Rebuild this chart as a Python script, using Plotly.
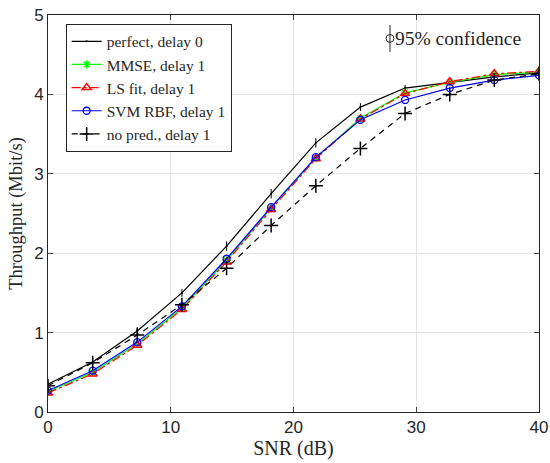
import plotly.graph_objects as go

snr = [0, 3.64, 7.27, 10.91, 14.55, 18.18, 21.82, 25.45, 29.09, 32.73, 36.36, 40]
perfect = [0.35, 0.63, 1.02, 1.50, 2.09, 2.75, 3.39, 3.84, 4.08, 4.15, 4.22, 4.27]
mmse = [0.26, 0.50, 0.86, 1.31, 1.91, 2.57, 3.20, 3.70, 4.02, 4.15, 4.25, 4.28]
lsfit = [0.24, 0.48, 0.84, 1.29, 1.89, 2.55, 3.19, 3.69, 4.01, 4.16, 4.26, 4.29]
svm = [0.27, 0.52, 0.88, 1.33, 1.93, 2.58, 3.21, 3.68, 3.93, 4.08, 4.18, 4.24]
nopred = [0.33, 0.62, 0.97, 1.35, 1.81, 2.35, 2.85, 3.32, 3.76, 4.00, 4.18, 4.26]
ci_perfect = [0.03, 0.04, 0.05, 0.05, 0.06, 0.06, 0.06, 0.05, 0.04, 0.03, 0.03, 0.02]

serif = "Liberation Serif"
sans = "Liberation Sans"
ink = "#262626"

fig = go.Figure()
fig.add_trace(go.Scatter(x=snr, y=perfect, name="perfect, delay 0", mode="lines+markers",
                         line=dict(color="black", width=1.2),
                         marker=dict(symbol="circle", size=2, color="black"),
                         error_y=dict(type="data", array=ci_perfect, color="black", thickness=1, width=0)))
fig.add_trace(go.Scatter(x=snr, y=mmse, name="MMSE, delay 1", mode="lines+markers",
                         line=dict(color="#00ff00", width=1.2),
                         marker=dict(symbol="asterisk-open", size=7, color="#00ff00", line=dict(width=1.2, color="#00ff00"))))
fig.add_trace(go.Scatter(x=snr, y=lsfit, name="LS fit, delay 1", mode="lines+markers",
                         line=dict(color="red", width=1.2, dash="dashdot"),
                         marker=dict(symbol="triangle-up-open", size=8, color="red", line=dict(width=1.5, color="red"))))
fig.add_trace(go.Scatter(x=snr, y=svm, name="SVM RBF, delay 1", mode="lines+markers",
                         line=dict(color="blue", width=1.2),
                         marker=dict(symbol="circle-open", size=7, color="blue", line=dict(width=1.3, color="blue"))))
fig.add_trace(go.Scatter(x=snr, y=nopred, name="no pred., delay 1", mode="lines+markers",
                         line=dict(color="black", width=1.2, dash="6px,5px"),
                         marker=dict(symbol="cross-thin-open", size=10, color="black", line=dict(width=1.5, color="black"))))

fig.update_layout(
    width=550, height=463,
    margin=dict(l=48, r=11, t=15, b=51),
    plot_bgcolor="white", paper_bgcolor="white",
    showlegend=True,
    legend=dict(x=0.036, y=0.978, xanchor="left", yanchor="top",
                bgcolor="white", bordercolor=ink, borderwidth=1,
                font=dict(family=serif, size=15.5, color=ink),
                tracegroupgap=0, itemwidth=30),
    xaxis=dict(range=[0, 40], tickvals=[0, 10, 20, 30, 40], ticks="inside", ticklen=5,
               showline=True, mirror="ticks", linecolor=ink, linewidth=1,
               showgrid=True, gridcolor="#e5e5e5", zeroline=False, automargin=False,
               tickfont=dict(family=sans, size=17, color=ink),
               title=dict(text="SNR (dB)", font=dict(family=serif, size=20, color=ink), standoff=2)),
    yaxis=dict(range=[0, 5], tickvals=[0, 1, 2, 3, 4, 5], ticks="inside", ticklen=5,
               showline=True, mirror="ticks", linecolor=ink, linewidth=1,
               showgrid=True, gridcolor="#e5e5e5", zeroline=False, automargin=False,
               tickfont=dict(family=sans, size=17, color=ink),
               title=dict(text="Throughput (Mbit/s)", font=dict(family=serif, size=18.5, color=ink), standoff=6)),
)

# confidence indicator
fig.add_shape(type="line", xref="paper", yref="paper", x0=0.6965, x1=0.6965, y0=0.907, y1=0.975,
              line=dict(color=ink, width=1))
fig.add_shape(type="circle", xref="paper", yref="paper", x0=0.6885, x1=0.7045, y0=0.931, y1=0.951,
              line=dict(color=ink, width=1))
fig.add_annotation(xref="paper", yref="paper", x=0.703, y=0.942, xanchor="left", yanchor="middle",
                   text="95% confidence", showarrow=False,
                   font=dict(family=serif, size=19.5, color=ink))

fig.write_html("out.html", config={"displayModeBar": False},
               post_script="document.body.style.margin='0';document.body.style.padding='0';")
